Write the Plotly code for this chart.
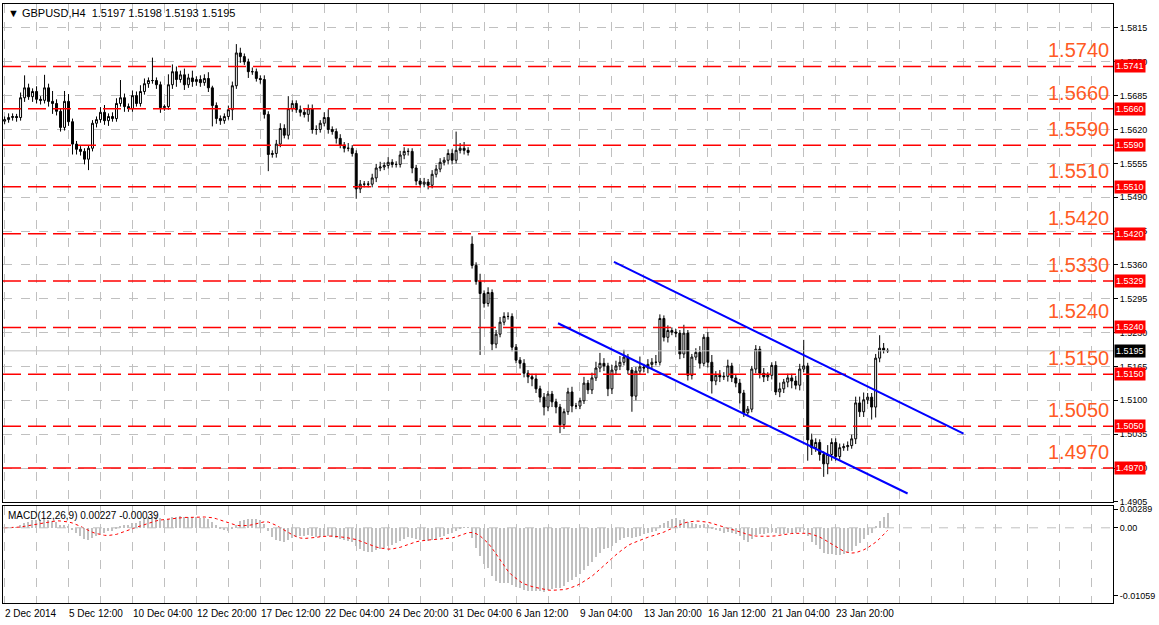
import plotly.graph_objects as go
import pandas as pd

# GBPUSD H4 closes
closes = [
    1.5639, 1.5643, 1.5645, 1.5643, 1.5681, 1.5700, 1.5683, 1.5693, 1.5678, 1.5676,
    1.5700, 1.5674, 1.5670, 1.5655, 1.5624, 1.5674, 1.5635, 1.5592, 1.5582, 1.5578,
    1.5563, 1.5584, 1.5632, 1.5639, 1.5653, 1.5637, 1.5645, 1.5641, 1.5670, 1.5681,
    1.5664, 1.5660, 1.5685, 1.5670, 1.5693, 1.5708, 1.5714, 1.5714, 1.5706, 1.5662,
    1.5664, 1.5706, 1.5731, 1.5716, 1.5725, 1.5706, 1.5719, 1.5712, 1.5716, 1.5710,
    1.5718, 1.5700, 1.5666, 1.5641, 1.5637, 1.5645, 1.5658, 1.5704, 1.5767, 1.5760,
    1.5750, 1.5731, 1.5731, 1.5718, 1.5716, 1.5649, 1.5572, 1.5574, 1.5592, 1.5622,
    1.5609, 1.5660, 1.5670, 1.5658, 1.5653, 1.5649, 1.5660, 1.5620, 1.5620, 1.5632,
    1.5643, 1.5620, 1.5616, 1.5603, 1.5590, 1.5584, 1.5584, 1.5574, 1.5506, 1.5515,
    1.5515, 1.5515, 1.5527, 1.5546, 1.5548, 1.5551, 1.5557, 1.5553, 1.5553, 1.5571,
    1.5578, 1.5578, 1.5546, 1.5521, 1.5515, 1.5519, 1.5513, 1.5534, 1.5544, 1.5557,
    1.5561, 1.5574, 1.5561, 1.5580, 1.5584, 1.5580, 1.5576,
    1.5359, 1.5328, 1.5305, 1.5286, 1.5307, 1.5208, 1.5227, 1.5250, 1.5261, 1.5261,
    1.5202, 1.5177, 1.5171, 1.5152, 1.5145, 1.5141, 1.5122, 1.5106, 1.5087, 1.5112,
    1.5097, 1.5087, 1.5053, 1.5078, 1.5116, 1.5089, 1.5089, 1.5099, 1.5133, 1.5120,
    1.5143, 1.5162, 1.5171, 1.5166, 1.5122, 1.5158, 1.5166, 1.5173, 1.5183, 1.5158,
    1.5108, 1.5156, 1.5164, 1.5162, 1.5169, 1.5173, 1.5173, 1.5257, 1.5221, 1.5234,
    1.5231, 1.5229, 1.5189, 1.5229, 1.5148, 1.5183, 1.5192, 1.5171, 1.5221, 1.5173,
    1.5137, 1.5148, 1.5145, 1.5146, 1.5166, 1.5143, 1.5133, 1.5114, 1.5076, 1.5083,
    1.5160, 1.5198, 1.5152, 1.5145, 1.5148, 1.5167, 1.5116, 1.5122, 1.5135, 1.5143,
    1.5137, 1.5129, 1.5160, 1.5166, 1.5024, 1.5009, 1.5019, 1.4996, 1.4978, 1.4996,
    1.5019, 1.4992, 1.5009, 1.5011, 1.5013, 1.5026, 1.5095, 1.5078, 1.5101, 1.5106,
    1.5087, 1.5181, 1.5200, 1.5196, 1.5195,
]
first_open = 1.5636
gap_bar = 117
gap_open = 1.5400

# wick lengths in pips above / below the body
upper_wick = [
    6, 8, 6, 5, 10, 24, 8, 6, 10, 6, 25, 8, 20, 8, 6, 20, 14, 6, 6, 6,
    6, 6, 6, 6, 10, 14, 6, 8, 10, 34, 8, 6, 10, 8, 12, 10, 6, 44, 6, 6,
    4, 20, 14, 10, 8, 12, 8, 14, 6, 8, 8, 12, 4, 6, 6, 6, 8, 8, 17, 10,
    6, 6, 8, 6, 6, 8, 6, 6, 8, 10, 8, 24, 6, 6, 8, 6, 8, 8, 8, 6,
    10, 16, 6, 6, 8, 6, 10, 6, 6, 8, 6, 6, 8, 8, 10, 6, 10, 6, 6, 8,
    8, 6, 6, 6, 6, 8, 6, 8, 8, 8, 6, 8, 8, 36, 10, 12, 6, 15, 6, 15,
    6, 10, 6, 8, 10, 8, 8, 6, 6, 6, 8, 6, 6, 10, 6, 8, 6, 6, 6, 6,
    6, 8, 10, 6, 6, 12, 6, 10, 12, 20, 10, 6, 10, 10, 12, 14, 6, 6, 8, 20,
    6, 10, 8, 14, 8, 6, 10, 6, 6, 6, 16, 6, 6, 8, 12, 6, 10, 14, 8, 10,
    8, 12, 6, 6, 8, 6, 6, 6, 8, 6, 10, 6, 6, 8, 12, 6, 8, 8, 10, 10,
    50, 6, 12, 8, 6, 6, 18, 8, 8, 8, 6, 8, 8, 12, 12, 14, 8, 8, 8, 25,
    10, 4,
]
lower_wick = [
    6, 6, 6, 8, 6, 8, 6, 10, 8, 8, 6, 10, 20, 8, 8, 6, 8, 20, 10, 8,
    10, 21, 6, 8, 6, 8, 10, 6, 6, 6, 10, 6, 6, 6, 6, 6, 8, 6, 8, 10,
    6, 6, 8, 14, 6, 10, 6, 10, 8, 8, 6, 8, 40, 10, 8, 6, 6, 20, 6, 12,
    6, 12, 6, 6, 8, 8, 32, 6, 8, 6, 6, 8, 6, 6, 8, 6, 14, 8, 10, 6,
    6, 8, 6, 10, 6, 8, 6, 6, 19, 8, 6, 6, 6, 8, 6, 6, 6, 6, 6, 6,
    8, 8, 10, 8, 6, 6, 8, 6, 6, 6, 6, 8, 8, 6, 6, 8, 6, 6, 6, 118,
    8, 6, 12, 8, 6, 6, 6, 8, 6, 10, 8, 12, 14, 8, 10, 16, 8, 10, 12, 16,
    8, 6, 12, 6, 6, 6, 8, 8, 6, 8, 10, 14, 10, 8, 8, 6, 8, 30, 8, 6,
    8, 10, 8, 6, 6, 8, 10, 6, 8, 10, 8, 10, 8, 6, 10, 6, 10, 24, 8, 10,
    6, 10, 8, 8, 20, 8, 6, 6, 8, 10, 10, 8, 8, 6, 10, 8, 10, 14, 8, 10,
    6, 40, 14, 8, 12, 25, 20, 12, 8, 6, 6, 8, 6, 10, 10, 10, 8, 24, 20, 8,
    6, 4,
]

date_labels = ["2 Dec 2014", "5 Dec 12:00", "10 Dec 04:00", "12 Dec 20:00", "17 Dec 12:00",
               "22 Dec 04:00", "24 Dec 20:00", "31 Dec 04:00", "6 Jan 12:00", "9 Jan 04:00",
               "13 Jan 20:00", "16 Jan 12:00", "21 Jan 04:00", "23 Jan 20:00"]
label_step = 16

levels = [1.5741, 1.5660, 1.5590, 1.5510, 1.5420, 1.5329, 1.5240, 1.5150, 1.5050, 1.4970]
level_titles = ["1.5740", "1.5660", "1.5590", "1.5510", "1.5420", "1.5330", "1.5240", "1.5150", "1.5050", "1.4970"]
price_ticks = [1.5815, 1.5750, 1.5685, 1.5620, 1.5555, 1.5490, 1.5425, 1.5360, 1.5295,
               1.5230, 1.5165, 1.5100, 1.5035, 1.4970, 1.4905]
last_price = 1.5195

# channel lines: (bar, price) endpoints
upper_channel = [(152.5, 1.5366), (240, 1.5036)]
lower_channel = [(138.5, 1.5248), (226, 1.4921)]

macd_ticks = [0.00289, 0.0, -0.01059]

n = len(closes)
bars = list(range(n))
opens = [first_open] + closes[:-1]
opens[gap_bar] = gap_open
highs = [max(o, c) + u / 10000 for o, c, u in zip(opens, closes, upper_wick)]
lows = [min(o, c) - d / 10000 for o, c, d in zip(opens, closes, lower_wick)]

s = pd.Series(closes)
macd = s.ewm(span=12, adjust=False).mean() - s.ewm(span=26, adjust=False).mean()
signal = macd.rolling(9, min_periods=1).mean()

FONT = "Liberation Sans"
xr = [-0.4, 277.4]

fig = go.Figure()
fig.add_trace(go.Candlestick(
    x=bars, open=opens, high=highs, low=lows, close=closes,
    increasing=dict(line=dict(color="black", width=1), fillcolor="white"),
    decreasing=dict(line=dict(color="black", width=1), fillcolor="black"),
    whiskerwidth=0, xaxis="x", yaxis="y", showlegend=False, hoverinfo="skip"))

for lv in levels:
    fig.add_trace(go.Scatter(x=xr, y=[lv, lv], mode="lines",
                             line=dict(color="#ff0000", width=1.5, dash="18px,7px"),
                             xaxis="x", yaxis="y", showlegend=False, hoverinfo="skip"))
fig.add_trace(go.Scatter(x=xr, y=[last_price, last_price], mode="lines",
                         line=dict(color="#c0c0c0", width=1), xaxis="x", yaxis="y", showlegend=False))
for ch in (upper_channel, lower_channel):
    fig.add_trace(go.Scatter(x=[p[0] for p in ch], y=[p[1] for p in ch], mode="lines",
                             line=dict(color="#0000ff", width=2), xaxis="x", yaxis="y", showlegend=False))

fig.add_trace(go.Bar(x=bars, y=macd, marker_color="#c0c0c0", marker_line_width=0, width=0.3,
                     xaxis="x2", yaxis="y2", showlegend=False))
fig.add_trace(go.Scatter(x=bars, y=signal, mode="lines", line=dict(color="#ff0000", width=1, dash="dot"),
                         xaxis="x2", yaxis="y2", showlegend=False))
fig.add_trace(go.Scatter(x=xr, y=[0, 0], mode="lines", line=dict(color="#c0c0c0", width=1, dash="dash"),
                         xaxis="x2", yaxis="y2", showlegend=False))

grid = dict(showgrid=True, gridcolor="#c0c0c0", griddash="dash", gridwidth=1)
axis_font = dict(family=FONT, size=9, color="black")
fig.update_layout(
    width=1159, height=625, paper_bgcolor="white", plot_bgcolor="white",
    margin=dict(l=2, r=46, t=2, b=22), bargap=0,
    font=dict(family=FONT, size=10, color="black"),
    xaxis=dict(domain=[0, 1], range=xr, rangeslider=dict(visible=False), tickvals=list(range(0, 280, 8)),
               showticklabels=False, showline=True, linecolor="black", mirror=True, zeroline=False, **grid),
    yaxis=dict(domain=[0.168, 1], range=[1.4904, 1.5861], side="right", tickvals=price_ticks,
               ticktext=[f"{t:.4f}" for t in price_ticks], tickfont=axis_font, ticks="outside",
               ticklen=4, tickcolor="black", showline=True, linecolor="black", mirror=True,
               zeroline=False, **grid),
    xaxis2=dict(domain=[0, 1], range=xr, anchor="y2", tickvals=list(range(0, 280, 8)),
                showticklabels=False, showline=True, linecolor="black", mirror=True, zeroline=False, **grid),
    yaxis2=dict(domain=[0, 0.162], range=[-0.0117, 0.0034], side="right", tickvals=macd_ticks,
                ticktext=["0.00289", "0.00", "-0.01059"], tickfont=axis_font, ticks="outside",
                ticklen=4, tickcolor="black", showline=True, linecolor="black", mirror=True,
                showgrid=False, zeroline=False),
)

ann = []
for i, lab in enumerate(date_labels):
    ann.append(dict(x=i * label_step - 0.4, y=-0.005, xref="x2", yref="paper", text=lab, showarrow=False,
                    xanchor="left", yanchor="top", font=dict(family=FONT, size=10)))
for lv, t in zip(levels, level_titles):
    ann.append(dict(x=0.969, y=lv + 0.0006, xref="paper", yref="y", text=t, showarrow=False,
                    xanchor="center", yanchor="bottom", font=dict(family=FONT, size=20, color="#ff5a23")))
    ann.append(dict(x=1.001, y=lv, xref="paper", yref="y", text=f"{lv:.4f}", showarrow=False,
                    xanchor="left", yanchor="middle", bgcolor="#ff0000", borderpad=1,
                    font=dict(family=FONT, size=9, color="white")))
ann.append(dict(x=1.001, y=last_price, xref="paper", yref="y", text=f"{last_price:.4f}", showarrow=False,
                xanchor="left", yanchor="middle", bgcolor="black", borderpad=1,
                font=dict(family=FONT, size=9, color="white")))
ann.append(dict(x=0.003, y=0.998, xref="paper", yref="paper", showarrow=False, xanchor="left", yanchor="top",
                text="\u25bc GBPUSD,H4  1.5197 1.5198 1.5193 1.5195", font=dict(family=FONT, size=11)))
ann.append(dict(x=0.003, y=0.158, xref="paper", yref="paper", showarrow=False, xanchor="left", yanchor="top",
                text="MACD(12,26,9) 0.00227 -0.00039", font=dict(family=FONT, size=10)))
fig.update_layout(annotations=ann)

fig.write_html("out.html", config={"displayModeBar": False},
               post_script="document.body.style.margin='0';")
